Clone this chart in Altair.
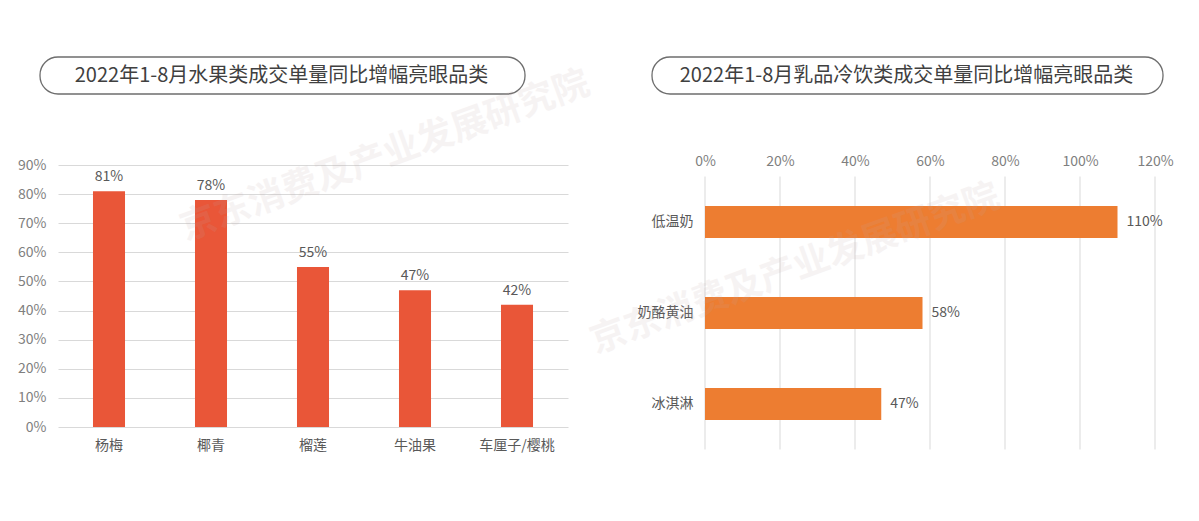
import altair as alt
import pandas as pd

FONT = "Noto Sans CJK SC"

# ---- data ----
fruit_names = ["杨梅", "椰青", "榴莲", "牛油果", "车厘子/樱桃"]
fruit_growth = [0.81, 0.78, 0.55, 0.47, 0.42]
fruit_ticks = [0.0, 0.1, 0.2, 0.3, 0.4, 0.5, 0.6, 0.7, 0.8, 0.9]

dairy_names = ["低温奶", "奶酪黄油", "冰淇淋"]
dairy_growth = [1.10, 0.58, 0.47]
dairy_ticks = [0.0, 0.2, 0.4, 0.6, 0.8, 1.0, 1.2]

title_left = ["2022年1-8月水果类成交单量同比增幅亮眼品类"]
title_right = ["2022年1-8月乳品冷饮类成交单量同比增幅亮眼品类"]
watermark = ["京东消费及产业发展研究院"]

fdf = pd.DataFrame({"name": fruit_names, "v": fruit_growth})
ddf = pd.DataFrame({"name": dairy_names, "v": dairy_growth})
dticks = pd.DataFrame({"v": dairy_ticks})
tl = pd.DataFrame({"t": title_left})
tr = pd.DataFrame({"t": title_right})
wm = pd.DataFrame({"t": watermark})

# ---- left chart ----
xl = alt.X("name:N", sort=fruit_names, title=None,
           scale=alt.Scale(paddingInner=0.686, paddingOuter=0.343),
           axis=alt.Axis(labelAngle=0, domain=False, ticks=False, grid=False, labelPadding=11,
                         labelFontSize=14, labelColor="#595959", labelFont=FONT))
yl = alt.Y("v:Q", title=None, scale=alt.Scale(domain=[0, 0.9], nice=False),
           axis=alt.Axis(values=fruit_ticks, format=".0%", domain=False, ticks=False,
                         labelPadding=12, gridColor="#D9D9D9", labelFontSize=14,
                         labelColor="#7F7F7F", labelFont=FONT, labelFlush=False))

bars_l = alt.Chart(fdf).mark_bar(color="#E95638").encode(x=xl, y=yl)
text_l = alt.Chart(fdf).mark_text(dy=-7, baseline="bottom", fontSize=14, color="#595959",
                                  font=FONT).encode(x=xl, y=yl, text=alt.Text("v:Q", format=".0%"))
box_l = alt.Chart(tl).mark_rect(cornerRadius=18, fill="white", stroke="#6E6E6E",
                                strokeWidth=1.3).encode(
    x=alt.value(-18), x2=alt.value(467), y=alt.value(-108), y2=alt.value(-71))
ttl_l = alt.Chart(tl).mark_text(fontSize=20, color="#404040", font=FONT, baseline="middle").encode(
    x=alt.value(223.5), y=alt.value(-89.5), text="t:N")
wm_l = alt.Chart(wm).mark_text(angle=340, fontSize=36, fontWeight="bold", color="#c0a8a8",
                               opacity=0.13, font=FONT, baseline="middle").encode(
    x=alt.value(327), y=alt.value(-9), text="t:N")
anchor = alt.Chart(tl).mark_rect(opacity=0).encode(
    x=alt.value(-50), x2=alt.value(-49), y=alt.value(0), y2=alt.value(1))

left = alt.layer(bars_l, text_l, box_l, ttl_l, wm_l, anchor).properties(width=510, height=262)

# ---- right chart ----
xr = alt.X("v:Q", title=None, scale=alt.Scale(domain=[0, 1.2], nice=False),
           axis=alt.Axis(orient="top", values=dairy_ticks, format=".0%", domain=False,
                         ticks=False, grid=False, labelPadding=-3, labelFontSize=14,
                         labelColor="#7F7F7F", labelFont=FONT, labelFlush=False))
yr = alt.Y("name:N", sort=dairy_names, title=None,
           scale=alt.Scale(range=[11.5, 284.5], paddingInner=0.648, paddingOuter=0.324),
           axis=alt.Axis(domain=False, ticks=False, grid=False, labelPadding=12, labelFontSize=14,
                         labelColor="#595959", labelFont=FONT))

grid_r = alt.Chart(dticks).mark_rule(color="#D9D9D9", strokeWidth=1).encode(
    x=xr, y=alt.value(11.5), y2=alt.value(284.5))
bars_r = alt.Chart(ddf).mark_bar(color="#ED7D31").encode(x=xr, y=yr)
text_r = alt.Chart(ddf).mark_text(align="left", dx=9, baseline="middle", fontSize=14,
                                  color="#595959", font=FONT).encode(
    x=xr, y=yr, text=alt.Text("v:Q", format=".0%"))
box_r = alt.Chart(tr).mark_rect(cornerRadius=18, fill="white", stroke="#6E6E6E",
                                strokeWidth=1.3).encode(
    x=alt.value(-53), x2=alt.value(458), y=alt.value(-108), y2=alt.value(-71))
ttl_r = alt.Chart(tr).mark_text(fontSize=20, color="#404040", font=FONT, baseline="middle").encode(
    x=alt.value(201.5), y=alt.value(-89.5), text="t:N")
wm_r = alt.Chart(wm).mark_text(angle=340, fontSize=36, fontWeight="bold", color="#c0a8a8",
                               opacity=0.13, font=FONT, baseline="middle").encode(
    x=alt.value(90), y=alt.value(104), text="t:N")

right = alt.layer(grid_r, bars_r, text_r, box_r, ttl_r, wm_r).properties(width=450, height=284.5)

chart = alt.hconcat(left, right, spacing=137, bounds="flush").properties(
    padding={"left": 0, "top": 48, "right": 5, "bottom": 5},
    background="white"
).configure_view(stroke=None)

chart.save("out.html", embed_options={"renderer": "svg", "actions": False})
